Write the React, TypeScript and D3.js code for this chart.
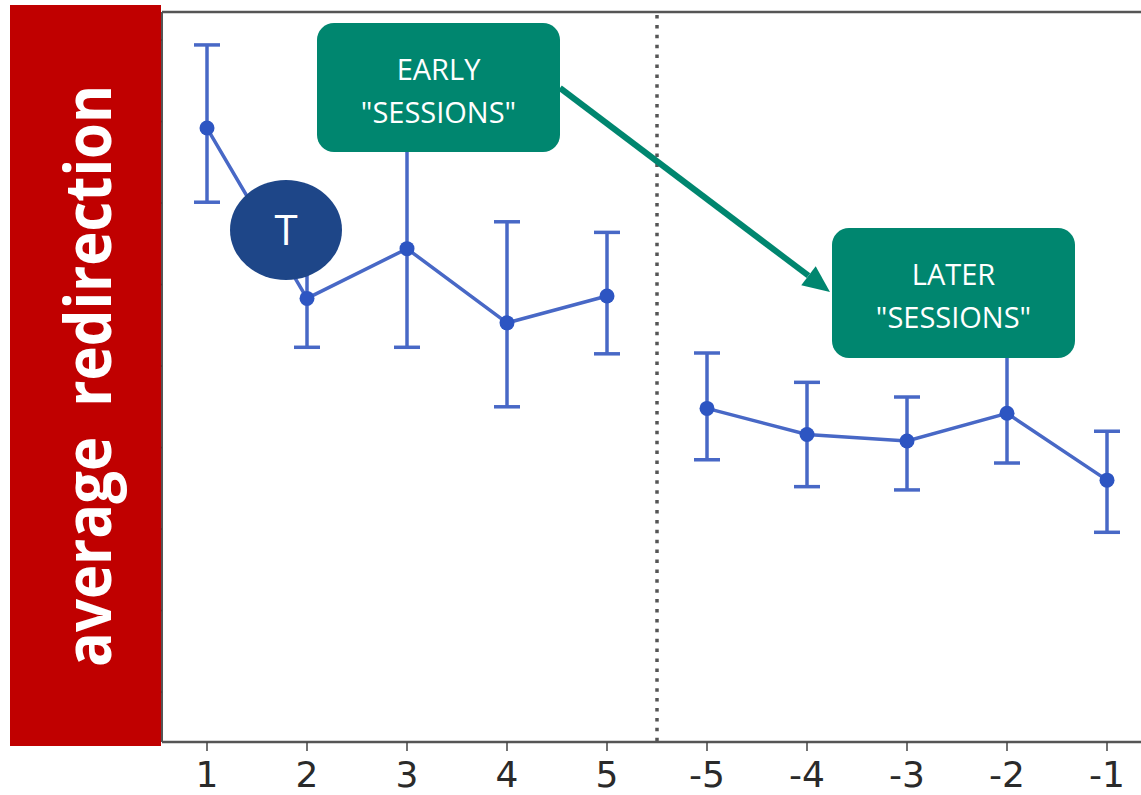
import React from "react";
import * as d3 from "d3";

// session labels along the x axis (first five, then last five)
const sessions = ["1", "2", "3", "4", "5", "-5", "-4", "-3", "-2", "-1"];
const earlySessions = ["1", "2", "3", "4", "5"];
const laterSessions = ["-5", "-4", "-3", "-2", "-1"];

// mean redirection per session and error bar ends
const means = [0.692, 0.483, 0.544, 0.453, 0.486, 0.348, 0.316, 0.308, 0.342, 0.26];
const upper = [0.794, 0.545, 0.67, 0.577, 0.564, 0.416, 0.38, 0.362, 0.415, 0.32];
const lower = [0.601, 0.423, 0.423, 0.35, 0.415, 0.285, 0.252, 0.248, 0.281, 0.196];

// unlabeled y ticks
const yTicks = [0, 0.1, 0.2, 0.3, 0.4, 0.5, 0.6, 0.7, 0.8];

const W = 1141;
const H = 795;
const plot = { left: 162, right: 1141, top: 12, bottom: 742 };

const lineColor = "#4868c6";
const dotColor = "#2d55c2";
const teal = "#00866f";

const App = () => {
  const x = d3.scalePoint<string>().domain(sessions).range([207, 1107]).padding(0);
  const y = d3.scaleLinear().domain([-0.0613, 0.8344]).range([plot.bottom, plot.top]);

  const rows = sessions.map((s, i) => ({ s, m: means[i], hi: upper[i], lo: lower[i] }));
  const line = d3
    .line<{ s: string; m: number }>()
    .x((d) => x(d.s) as number)
    .y((d) => y(d.m));

  const divider = ((x("5") as number) + (x("-5") as number)) / 2;

  // arrow between the two labels
  const a0 = [560, 88];
  const a1 = [830, 292];
  const dx = a1[0] - a0[0];
  const dy = a1[1] - a0[1];
  const len = Math.hypot(dx, dy);
  const ux = dx / len;
  const uy = dy / len;
  const headL = 27;
  const headW = 12;
  const bx = a1[0] - headL * ux;
  const by = a1[1] - headL * uy;
  const head = [
    [a1[0], a1[1]],
    [bx - headW * uy, by + headW * ux],
    [bx + headW * uy, by - headW * ux],
  ];

  const boxes = [
    { x: 317, y: 23, w: 243, h: 129, l1: "EARLY", l2: '"SESSIONS"' },
    { x: 832, y: 228, w: 243, h: 130, l1: "LATER", l2: '"SESSIONS"' },
  ];

  return (
    <svg
      width={W}
      height={H}
      style={{ position: "absolute", left: 0, top: 0, background: "#fff" }}
    >
      {/* spines */}
      <line x1={plot.left} x2={plot.right} y1={plot.top} y2={plot.top} stroke="#555" strokeWidth={2.5} />
      <line x1={plot.left} x2={plot.right} y1={plot.bottom} y2={plot.bottom} stroke="#555" strokeWidth={2.5} />
      <line x1={plot.left} x2={plot.left} y1={plot.top} y2={plot.bottom} stroke="#555" strokeWidth={2} />

      {/* y ticks */}
      {yTicks.map((t) => (
        <line key={t} x1={plot.left - 5} x2={plot.left} y1={y(t)} y2={y(t)} stroke="#444" strokeWidth={1.5} />
      ))}

      {/* x ticks and labels */}
      {sessions.map((s) => (
        <g key={s} transform={`translate(${x(s)},${plot.bottom})`}>
          <line y1={0} y2={9} stroke="#444" strokeWidth={1.5} />
          <text
            y={45}
            textAnchor="middle"
            fontFamily="DejaVu Sans"
            fontSize={36}
            fill="#2a2a2a"
          >
            {s}
          </text>
        </g>
      ))}

      {/* dotted divider */}
      <line
        x1={divider}
        x2={divider}
        y1={plot.top + 3}
        y2={plot.bottom}
        stroke="#555"
        strokeWidth={3.5}
        strokeDasharray="3.5 6.4"
      />

      {/* connecting lines */}
      <path d={line(rows.filter((r) => earlySessions.includes(r.s))) || ""} fill="none" stroke={lineColor} strokeWidth={3.5} />
      <path d={line(rows.filter((r) => laterSessions.includes(r.s))) || ""} fill="none" stroke={lineColor} strokeWidth={3.5} />

      {/* error bars */}
      {rows.map((r) => {
        const cx = x(r.s) as number;
        return (
          <g key={r.s} stroke={lineColor} strokeWidth={3.5}>
            <line x1={cx} x2={cx} y1={y(r.hi)} y2={y(r.lo)} />
            <line x1={cx - 13} x2={cx + 13} y1={y(r.hi)} y2={y(r.hi)} />
            <line x1={cx - 13} x2={cx + 13} y1={y(r.lo)} y2={y(r.lo)} />
          </g>
        );
      })}

      {/* markers */}
      {rows.map((r) => (
        <circle key={r.s} cx={x(r.s)} cy={y(r.m)} r={7.5} fill={dotColor} />
      ))}

      {/* y axis label box */}
      <rect x={10} y={5} width={151} height={741} fill="#c00000" />
      <text
        transform="translate(111,376) rotate(-90)"
        textAnchor="middle"
        fontFamily="Open Sans"
        fontWeight="bold"
        fontSize={64}
        fill="#fff"
        textLength={582}
        lengthAdjust="spacingAndGlyphs"
        style={{ whiteSpace: "pre" }}
      >
        {"average  redirection"}
      </text>

      {/* T badge */}
      <ellipse cx={286} cy={230} rx={56} ry={50} fill="#1e4688" />
      <text x={286} y={245} textAnchor="middle" fontFamily="Open Sans" fontSize={42} fill="#fff">
        T
      </text>

      {/* arrow */}
      <line x1={a0[0]} y1={a0[1]} x2={bx} y2={by} stroke={teal} strokeWidth={6} />
      <polygon points={head.map((p) => p.join(",")).join(" ")} fill={teal} />

      {/* annotation boxes */}
      {boxes.map((b) => (
        <g key={b.l1}>
          <rect x={b.x} y={b.y} width={b.w} height={b.h} rx={17} fill={teal} />
          <text
            x={b.x + b.w / 2}
            y={b.y + 57}
            textAnchor="middle"
            fontFamily="Open Sans"
            fontSize={29}
            fill="#fff"
          >
            {b.l1}
          </text>
          <text
            x={b.x + b.w / 2}
            y={b.y + 100}
            textAnchor="middle"
            fontFamily="Open Sans"
            fontSize={29}
            fill="#fff"
          >
            {b.l2}
          </text>
        </g>
      ))}
    </svg>
  );
};

export default App;
